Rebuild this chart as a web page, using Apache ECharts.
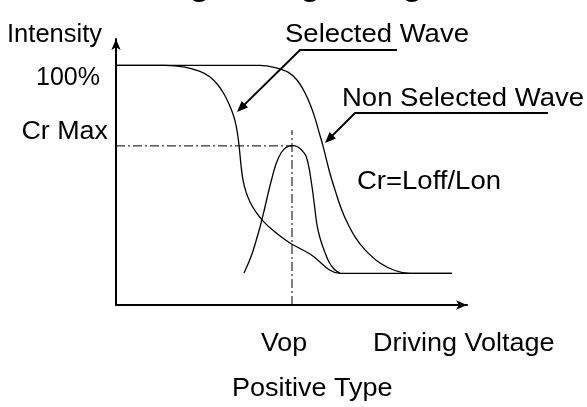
<!DOCTYPE html>
<html>
<head>
<meta charset="utf-8">
<script src="https://cdn.jsdelivr.net/npm/echarts@6/dist/echarts.min.js"></script>
<style>html,body{margin:0;padding:0;background:#fff}#c{width:587px;height:407px}</style>
</head>
<body>
<div id="c"></div>
<script>
// ---- data (arbitrary units: voltage 0..100, intensity %) ----
const selectedX = [0, 13.96, 19.66, 23.93, 26.78, 29.06, 30.77, 32.19, 33.33, 34.19, 34.76, 35.19, 35.61, 36.18, 37.04, 38.18, 39.89, 42.17, 45.3, 49.57, 55.27, 63.82, 95.73];
const selectedY = [100, 100, 99.3, 97.45, 95.16, 91.8, 88.06, 83.9, 79.7, 75.1, 70.1, 64.7, 58.4, 52.2, 47.2, 43.0, 38.8, 34.6, 30.5, 25.9, 21.3, 13.2, 13.2];
const nonSelectedX = [0, 41.03, 45.3, 49.0, 51.57, 53.56, 55.27, 56.7, 57.83, 58.97, 60.11, 61.25, 62.68, 64.1, 65.81, 68.09, 70.94, 75.21, 79.49, 83.76, 95.73];
const nonSelectedY = [100, 100, 99.1, 97.2, 93.9, 89.3, 83.9, 78.0, 72.2, 66.4, 59.7, 53.4, 46.7, 40.5, 34.6, 28.4, 23.0, 17.5, 14.4, 13.2, 13.2];
const contrastX = [36.47, 37.61, 38.75, 39.89, 41.03, 42.17, 43.30, 44.44, 45.58, 47.01, 48.43, 50.14, 51.85, 52.99, 54.13, 54.99, 55.56, 56.13, 56.70, 57.26, 58.12, 59.26, 60.68, 62.11, 63.82];
const contrastY = [13.36, 17.11, 21.29, 26.71, 32.55, 39.23, 46.33, 53.0, 58.85, 63.44, 65.73, 66.5, 65.94, 64.48, 62.19, 57.18, 52.17, 46.33, 39.65, 33.39, 27.96, 22.95, 17.95, 15.03, 13.2];
const crMax = 66.4;
const vop = 50.14;
const vopLineTop = 73;
// annotation leaders: [underline end, underline start/bend, arrow tip]
const selectedLeader = [[80.06, 106.4], [52.42, 106.4], [34.47, 80.55]];
const nonSelectedLeader = [[123.08, 80.13], [68.09, 80.13], [59.54, 67.61]];

const zip = (xs, ys) => xs.map((x, i) => [x, ys[i]]);
const FONT = 'Liberation Sans, Arial, sans-serif';
const chart = echarts.init(document.getElementById('c'), null, {renderer: 'canvas'});

const curveStyle = {color: '#000', width: 1.3};
const dashDot = {color: '#000', width: 1, type: [9, 3, 2, 3]};

chart.setOption({
  animation: false,
  backgroundColor: '#fff',
  grid: {left: 116, right: 120, top: 39, bottom: 102},
  xAxis: {
    type: 'value', min: 0, max: 100,
    axisLine: {lineStyle: {color: '#000', width: 2}, symbol: ['none', 'arrow'], symbolSize: [7, 11]},
    axisTick: {show: false}, axisLabel: {show: false}, splitLine: {show: false}
  },
  yAxis: {
    type: 'value', min: 0, max: 111,
    axisLine: {lineStyle: {color: '#000', width: 2}, symbol: ['none', 'arrow'], symbolSize: [7, 11]},
    axisTick: {show: false}, axisLabel: {show: false}, splitLine: {show: false}
  },
  series: [
    {type: 'line', data: zip(selectedX, selectedY), smooth: 0.35, showSymbol: false, lineStyle: curveStyle, clip: false},
    {type: 'line', data: zip(nonSelectedX, nonSelectedY), smooth: 0.35, showSymbol: false, lineStyle: curveStyle, clip: false},
    {type: 'line', data: zip(contrastX, contrastY), smooth: 0.35, showSymbol: false, lineStyle: curveStyle, clip: false},
    {type: 'line', data: [[0, crMax], [vop, crMax]], showSymbol: false, lineStyle: dashDot},
    {type: 'line', data: [[vop, 0], [vop, vopLineTop]], showSymbol: false, lineStyle: dashDot}
  ]
});

function leader(pts) {
  const p = pts.map(d => chart.convertToPixel({gridIndex: 0}, d));
  const tip = p[2], from = p[1];
  const dx = tip[0] - from[0], dy = tip[1] - from[1];
  const L = Math.hypot(dx, dy), ux = dx / L, uy = dy / L;
  const len = 11, hw = 4.5;
  const bx = tip[0] - ux * len, by = tip[1] - uy * len;
  return [
    {type: 'polyline', shape: {points: [p[0], p[1], [bx + ux * 2, by + uy * 2]]}, style: {stroke: '#000', lineWidth: 2, fill: null}},
    {type: 'polygon', shape: {points: [tip, [bx - uy * hw, by + ux * hw], [bx + uy * hw, by - ux * hw]]}, style: {fill: '#000'}}
  ];
}
function txt(text, x, y, align, sx) {
  return {type: 'text', x: x, y: y, scaleX: sx || 1, style: {text: text, fill: '#000', font: '25px ' + FONT, align: align, verticalAlign: 'middle'}};
}
chart.setOption({
  graphic: [
    {type: 'text', x: 289, y: -14.5, style: {text: 'Driving Voltage Diagram', fill: '#000', font: 'bold 34px ' + FONT, align: 'center', verticalAlign: 'middle'}},
    txt('Intensity', 102, 35, 'right', 1.02),
    txt('100%', 100, 78, 'right', 1),
    txt('Cr Max', 108, 132, 'right', 1.075),
    txt('Selected Wave', 285, 35, 'left', 1.1),
    txt('Non Selected Wave', 342, 99, 'left', 1.1),
    txt('Cr=Loff/Lon', 357, 182, 'left', 1.1),
    txt('Vop', 284, 344, 'center', 1.07),
    txt('Driving Voltage', 373, 344, 'left', 1.08),
    txt('Positive Type', 232, 389, 'left', 1.08)
  ].concat(leader(selectedLeader), leader(nonSelectedLeader))
});
</script>
</body>
</html>
